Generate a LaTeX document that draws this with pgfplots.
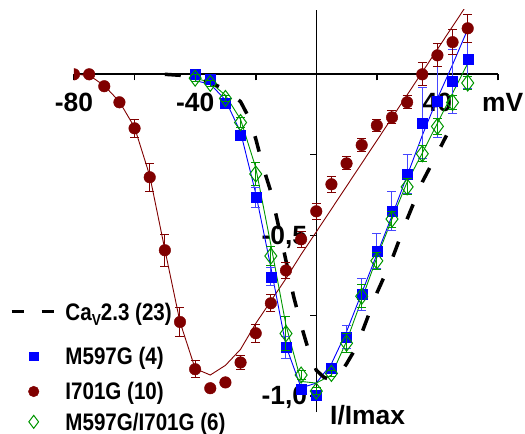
\documentclass[border=0pt]{standalone}
\usepackage{fontspec}
\setmainfont{Liberation Sans}
\newfontfamily\axfont{Liberation Sans Bold}
\newfontfamily\lgfont{Liberation Sans Bold}[FakeStretch=0.86]
\newcommand\lgtxt{\lgfont\fontsize{24}{24}\selectfont}
\newcommand\axtxt{\axfont\fontsize{26.5}{26.5}\selectfont}
\usepackage{pgfplots}
\usepackage{pgfplotstable}
\pgfplotsset{compat=1.18}
\definecolor{cblue}{RGB}{0,0,255}
\definecolor{cebl}{RGB}{70,70,255}
\definecolor{cred}{RGB}{128,0,0}
\definecolor{cgreen}{RGB}{0,150,0}

% M597G (4): V, I, err
\pgfplotstableread{
V I e
-40 0.0 0.005
-35 -0.016 0.008
-30 -0.09 0.01
-25 -0.19 0.015
-20 -0.383 0.03
-15 -0.63 0.028
-10 -0.85 0.035
-5 -0.98 0.015
0 -0.997 0.01
5 -0.915 0.015
10 -0.816 0.036
15 -0.684 0.05
20 -0.55 0.055
25 -0.425 0.06
30 -0.31 0.06
35 -0.152 0.11
40 -0.085 0.11
45 -0.022 0.1
50 0.047 0.09
}\tblue
% I701G (10)
\pgfplotstableread{
V I e
-80 0.0 0.0
-75 0.0 0.0
-70 -0.037 0.005
-65 -0.087 0.008
-60 -0.168 0.027
-55 -0.32 0.043
-50 -0.547 0.05
-45 -0.77 0.045
-40 -0.917 0.026
-35 -0.976 0.008
-30 -0.958 0.008
-25 -0.896 0.023
-20 -0.805 0.028
-15 -0.712 0.027
-10 -0.61 0.026
-5 -0.513 0.025
0 -0.426 0.025
5 -0.342 0.025
10 -0.277 0.02
15 -0.22 0.02
20 -0.159 0.02
25 -0.134 0.02
30 -0.087 0.02
35 0.0 0.036
40 0.059 0.036
45 0.1 0.038
50 0.143 0.044
}\tred
% M597G/I701G (6)
\pgfplotstableread{
V I e
-40 -0.012 0.01
-35 -0.028 0.01
-30 -0.075 0.01
-25 -0.15 0.015
-20 -0.31 0.036
-15 -0.565 0.03
-10 -0.806 0.052
-5 -0.935 0.015
0 -0.985 0.01
5 -0.93 0.01
10 -0.836 0.03
15 -0.69 0.035
20 -0.58 0.026
25 -0.45 0.025
30 -0.35 0.025
35 -0.247 0.025
40 -0.162 0.025
45 -0.0875 0.023
50 -0.027 0.02
}\tgreen
% fitted curves
\pgfplotstableread{
V I
-40 -0.02
-35 -0.03
-30 -0.08
-25 -0.18
-20 -0.37
-15 -0.6
-10 -0.845
-5 -0.975
0 -0.96
5 -0.9
10 -0.80
15 -0.68
20 -0.56
25 -0.44
30 -0.315
35 -0.19
40 -0.075
45 0.03
50 0.14
}\fblue
\pgfplotstableread{
V I
-80 0.0
-75 -0.003
-70 -0.035
-65 -0.085
-60 -0.165
-55 -0.315
-50 -0.545
-45 -0.77
-40 -0.915
-35 -0.935
-30 -0.905
-25 -0.855
-20 -0.775
-15 -0.705
-10 -0.635
-5 -0.56
0 -0.49
5 -0.419
10 -0.348
15 -0.277
20 -0.206
25 -0.135
30 -0.064
35 0.007
40 0.078
45 0.149
50 0.22
}\fred
\pgfplotstableread{
V I
-40 -0.012
-35 -0.025
-30 -0.065
-25 -0.14
-20 -0.29
-15 -0.53
-10 -0.78
-5 -0.955
0 -0.96
5 -0.935
10 -0.83
15 -0.70
20 -0.57
25 -0.45
30 -0.335
35 -0.245
40 -0.152
45 -0.059
50 0.034
}\fgreen
% CaV2.3 (23) fit
\pgfplotstableread{
V I
-50 0.0
-45 -0.003
-40 -0.01
-35 -0.025
-30 -0.048
-25 -0.085
-22.5 -0.13
-20 -0.2
-17.5 -0.29
-15 -0.365
-12.5 -0.47
-10 -0.58
-7.5 -0.69
-5 -0.78
-2.5 -0.86
0 -0.92
2.5 -0.942
5 -0.95
7.5 -0.935
10 -0.9
12.5 -0.86
15 -0.805
20 -0.68
25 -0.575
30 -0.45
35 -0.335
40 -0.245
43 -0.19
}\fcav

\begin{document}
\begin{tikzpicture}
\begin{axis}[
  at={(0bp,0bp)}, anchor=south west,
  scale only axis, width=424bp, height=402bp,
  xmin=-80, xmax=60, ymin=-1.05, ymax=0.2,
  axis lines=middle,
  axis line style={-},
  x axis line style={line width=2.2bp},
  y axis line style={line width=1.5bp},
  xtick={-80,-60,-40,-20,20,40,60},
  xticklabels={-80,{},-40,{},{},40,{}},
  ytick={-1,-0.75,-0.5,-0.25},
  yticklabels={{-1,0},{},{-0,5},{}},
  tick align=outside,
  major tick length=6bp,
  x tick style={black, line width=1.6bp},
  y tick style={black, line width=1.2bp},
  xticklabel style={font=\axtxt, anchor=base, inner sep=0pt, yshift=-31bp},
  yticklabel style={font=\axtxt, anchor=base east, inner sep=0pt, xshift=-3bp, yshift=-9bp},
  clip marker paths=true,
  legend style={draw=none, fill=none, inner sep=0pt, outer sep=0pt,
    at={(rel axis cs:-0.151,0.2749)}, anchor=north west,
    cells={anchor=base west}, column sep=6bp, row sep=0pt,
    font=\lgtxt},
]
% fitted lines
\addplot[cred, line width=0.9bp, forget plot] table[x=V,y=I] {\fred};
\addplot[cblue, line width=0.9bp, forget plot] table[x=V,y=I] {\fblue};
\addplot[cgreen, line width=0.9bp, forget plot] table[x=V,y=I] {\fgreen};
% dashed CaV2.3
\addplot[black, line width=3.5bp, dash pattern=on 16bp off 24bp,
  legend image code/.code={\draw[black, line width=3.5bp, dash pattern=on 12bp off 18bp] (0bp,9.5bp) -- (44bp,9.5bp); \path (0bp,-22.8bp);}]
  table[x=V,y=I] {\fcav};
\addlegendentry{\lgtxt Ca\raisebox{-5bp}{\fontsize{16}{16}\selectfont V}2.3 (23)}
% M597G
\addplot[only marks, mark=square*, mark size=5bp, mark options={cblue, draw=cblue, fill=cblue},
  legend image code/.code={\draw[only marks, mark=square*, mark size=4.2bp, mark options={draw=cblue, fill=cblue}] plot coordinates {(22bp,8.5bp)}; \path (0bp,-15.8bp);},
  error bars/.cd, y dir=both, y explicit,
  error bar style={cebl, line width=1bp},
  error mark options={cebl, rotate=90, mark size=4.5bp, line width=1bp}]
  table[x=V,y=I,y error=e] {\tblue};
\addlegendentry{\lgtxt M597G (4)}
% I701G
\addplot[only marks, mark=*, mark size=5.8bp, mark options={cred, draw=cred, fill=cred},
  legend image code/.code={\draw[only marks, mark=*, mark size=5.3bp, mark options={draw=cred, fill=cred}] plot coordinates {(22bp,8.5bp)}; \path (0bp,-10.8bp);},
  error bars/.cd, y dir=both, y explicit,
  error bar style={cred, line width=1bp},
  error mark options={cred, rotate=90, mark size=4.5bp, line width=1bp}]
  table[x=V,y=I,y error=e] {\tred};
\addlegendentry{\lgtxt I701G (10)}
% M597G/I701G
\addplot[only marks, mark=diamond, mark size=8bp, mark options={cgreen, draw=cgreen, fill=none, line width=1bp},
  legend image code/.code={\draw[only marks, mark=diamond, mark size=6.5bp, mark options={draw=cgreen, fill=none, line width=1bp}] plot coordinates {(22bp,8.5bp)};},
  error bars/.cd, y dir=both, y explicit,
  error bar style={cgreen, line width=1bp},
  error mark options={cgreen, rotate=90, mark size=4.5bp, line width=1bp}]
  table[x=V,y=I,y error=e] {\tgreen};
\addlegendentry{\lgtxt M597G/I701G (6)}
\end{axis}
\node[font=\axtxt, anchor=base west, inner sep=0pt] at (408bp,300bp) {mV};
\node[font=\axtxt, anchor=base west, inner sep=0pt] at (256bp,-12bp) {I/Imax};
\path (-74bp,-18bp) rectangle (451bp,412bp);
\end{tikzpicture}
\end{document}
